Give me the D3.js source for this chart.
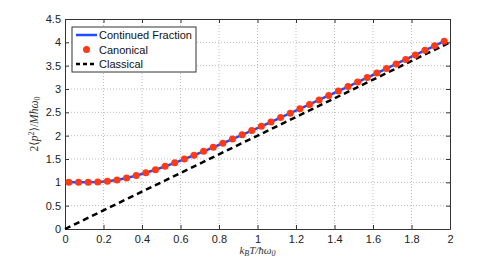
<!DOCTYPE html>
<html>
<head>
<meta charset="utf-8">
<script src="https://cdn.jsdelivr.net/npm/d3@7"></script>
<style>
  body { margin: 0; background: #fff; }
  text { font-family: "Liberation Sans", Arial, sans-serif; }
  .math { font-family: "Liberation Serif", "DejaVu Serif", serif; font-style: italic; }
</style>
</head>
<body>
<svg id="chart" width="497" height="259"></svg>
<script>
// values
let canonT = [0.02, 0.07, 0.12, 0.17, 0.22, 0.27, 0.32, 0.37, 0.42, 0.47,
  0.52, 0.57, 0.62, 0.67, 0.72, 0.77, 0.82, 0.87, 0.92, 0.97,
  1.02, 1.07, 1.12, 1.17, 1.22, 1.27, 1.32, 1.37, 1.42, 1.47,
  1.52, 1.57, 1.62, 1.67, 1.72, 1.77, 1.82, 1.87, 1.92, 1.97]
let canonP = [1.0, 1.0, 1.0, 1.006, 1.021, 1.05, 1.092, 1.144, 1.204, 1.27,
  1.342, 1.418, 1.498, 1.58, 1.664, 1.751, 1.838, 1.927, 2.018, 2.109,
  2.201, 2.293, 2.387, 2.481, 2.575, 2.67, 2.765, 2.861, 2.956, 3.052,
  3.149, 3.245, 3.342, 3.439, 3.536, 3.634, 3.731, 3.829, 3.926, 4.024]
let cfT = [0.01, 0.02, 0.07, 0.12, 0.17, 0.22, 0.27, 0.32, 0.37, 0.42, 0.47,
  0.52, 0.57, 0.62, 0.67, 0.72, 0.77, 0.82, 0.87, 0.92, 0.97,
  1.02, 1.07, 1.12, 1.17, 1.22, 1.27, 1.32, 1.37, 1.42, 1.47,
  1.52, 1.57, 1.62, 1.67, 1.72, 1.77, 1.82, 1.87, 1.92, 1.97]
let cfP = [1.0, 1.0, 1.0, 1.0, 1.006, 1.021, 1.05, 1.092, 1.144, 1.204, 1.27,
  1.342, 1.418, 1.498, 1.58, 1.664, 1.751, 1.838, 1.927, 2.018, 2.109,
  2.201, 2.293, 2.387, 2.481, 2.575, 2.67, 2.765, 2.861, 2.956, 3.052,
  3.149, 3.245, 3.342, 3.439, 3.536, 3.634, 3.731, 3.829, 3.926, 4.024]
let classT = [0, 2]
let classP = [0, 4]
let xTicks = [0, 0.2, 0.4, 0.6, 0.8, 1, 1.2, 1.4, 1.6, 1.8, 2]
let yTicks = [0, 0.5, 1, 1.5, 2, 2.5, 3, 3.5, 4, 4.5]
let legendNames = ['Continued Fraction', 'Canonical', 'Classical']

let margin = { left: 65, right: 47, top: 19, bottom: 30 }
let width = 497 - margin.left - margin.right
let height = 259 - margin.top - margin.bottom

let svg = d3.select('#chart')
let g = svg.append('g').attr('transform', `translate(${margin.left},${margin.top})`)

let x = d3.scaleLinear().domain([0, 2]).range([0, width])
let y = d3.scaleLinear().domain([0, 4.5]).range([height, 0])

// grid
g.selectAll('line.vgrid')
  .data(xTicks.slice(1, -1))
  .join('line')
  .attr('class', 'vgrid')
  .attr('x1', d => x(d)).attr('x2', d => x(d))
  .attr('y1', 0).attr('y2', height)
  .attr('stroke', '#bdbdbd').attr('stroke-width', 1)
  .attr('stroke-dasharray', '1,2')
g.selectAll('line.hgrid')
  .data(yTicks.slice(1, -1))
  .join('line')
  .attr('class', 'hgrid')
  .attr('x1', 0).attr('x2', width)
  .attr('y1', d => y(d)).attr('y2', d => y(d))
  .attr('stroke', '#bdbdbd').attr('stroke-width', 1)
  .attr('stroke-dasharray', '1,2')

// axes
let xAxis = g.append('g')
  .attr('transform', `translate(0,${height})`)
  .call(d3.axisBottom(x).tickValues(xTicks).tickFormat(d3.format('~g')).tickSizeInner(-4).tickSizeOuter(0).tickPadding(6))
let yAxis = g.append('g')
  .call(d3.axisLeft(y).tickValues(yTicks).tickFormat(d3.format('~g')).tickSizeInner(-4).tickSizeOuter(0).tickPadding(4))
let xTop = g.append('g')
  .call(d3.axisTop(x).tickValues(xTicks).tickFormat('').tickSizeInner(-4).tickSizeOuter(0))
let yRight = g.append('g')
  .attr('transform', `translate(${width},0)`)
  .call(d3.axisRight(y).tickValues(yTicks).tickFormat('').tickSizeInner(-4).tickSizeOuter(0))
;[xAxis, yAxis, xTop, yRight].forEach(a => {
  a.selectAll('path').attr('stroke', '#333')
  a.selectAll('line').attr('stroke', '#333')
  a.selectAll('text').attr('font-size', 11).attr('fill', '#222')
    .style('font-family', '"Liberation Sans", Arial, sans-serif')
})

// series
let line = d3.line().x(d => x(d[0])).y(d => y(d[1]))
g.append('path')
  .datum(cfT.map((t, i) => [t, cfP[i]]))
  .attr('d', line)
  .attr('fill', 'none')
  .attr('stroke', '#1f4cff')
  .attr('stroke-width', 2.5)
g.append('path')
  .datum(classT.map((t, i) => [t, classP[i]]))
  .attr('d', line)
  .attr('fill', 'none')
  .attr('stroke', '#000')
  .attr('stroke-width', 2.5)
  .attr('stroke-dasharray', '6,4')
g.selectAll('circle.canon')
  .data(canonT.map((t, i) => [t, canonP[i]]))
  .join('circle')
  .attr('class', 'canon')
  .attr('cx', d => x(d[0]))
  .attr('cy', d => y(d[1]))
  .attr('r', 3.5)
  .attr('fill', '#ff3a14')

// legend
let lg = g.append('g').attr('transform', 'translate(7,8)')
lg.append('rect')
  .attr('width', 124).attr('height', 45)
  .attr('fill', '#fff').attr('stroke', '#333').attr('stroke-width', 1)
let rows = lg.selectAll('g.row')
  .data(legendNames)
  .join('g')
  .attr('class', 'row')
  .attr('transform', (d, i) => `translate(0,${8 + i * 14.5})`)
rows.append('text')
  .attr('x', 27).attr('y', 4)
  .attr('font-size', 11).attr('fill', '#111')
  .text(d => d)
rows.filter((d, i) => i === 0).append('line')
  .attr('x1', 4).attr('x2', 25).attr('y1', 0).attr('y2', 0)
  .attr('stroke', '#1f4cff').attr('stroke-width', 2.5)
rows.filter((d, i) => i === 1).append('circle')
  .attr('cx', 14.5).attr('cy', 0).attr('r', 3.5).attr('fill', '#ff3a14')
rows.filter((d, i) => i === 2).append('line')
  .attr('x1', 4).attr('x2', 25).attr('y1', 0).attr('y2', 0)
  .attr('stroke', '#000').attr('stroke-width', 2.5).attr('stroke-dasharray', '4,3')

// axis labels
let xl = svg.append('text')
  .attr('class', 'math')
  .attr('x', margin.left + width / 2)
  .attr('y', 254)
  .attr('text-anchor', 'middle')
  .attr('font-size', 11)
  .attr('fill', '#333')
xl.append('tspan').text('k')
xl.append('tspan').attr('font-size', 8).attr('dy', 2).text('B')
xl.append('tspan').attr('dy', -2).text('T/ħω')
xl.append('tspan').attr('font-size', 8).attr('dy', 2).text('0')

let yl = svg.append('text')
  .attr('class', 'math')
  .attr('transform', `translate(38,${margin.top + height / 2}) rotate(-90)`)
  .attr('text-anchor', 'middle')
  .attr('font-size', 11.5)
  .attr('fill', '#333')
yl.append('tspan').style('font-style', 'normal').text('2⟨')
yl.append('tspan').text('p')
yl.append('tspan').style('font-style', 'normal').attr('font-size', 8).attr('dy', -4).text('2')
yl.append('tspan').style('font-style', 'normal').attr('dy', 4).text('⟩/')
yl.append('tspan').text('Mħω')
yl.append('tspan').style('font-style', 'normal').attr('font-size', 8).attr('dy', 2).text('0')
</script>
</body>
</html>
